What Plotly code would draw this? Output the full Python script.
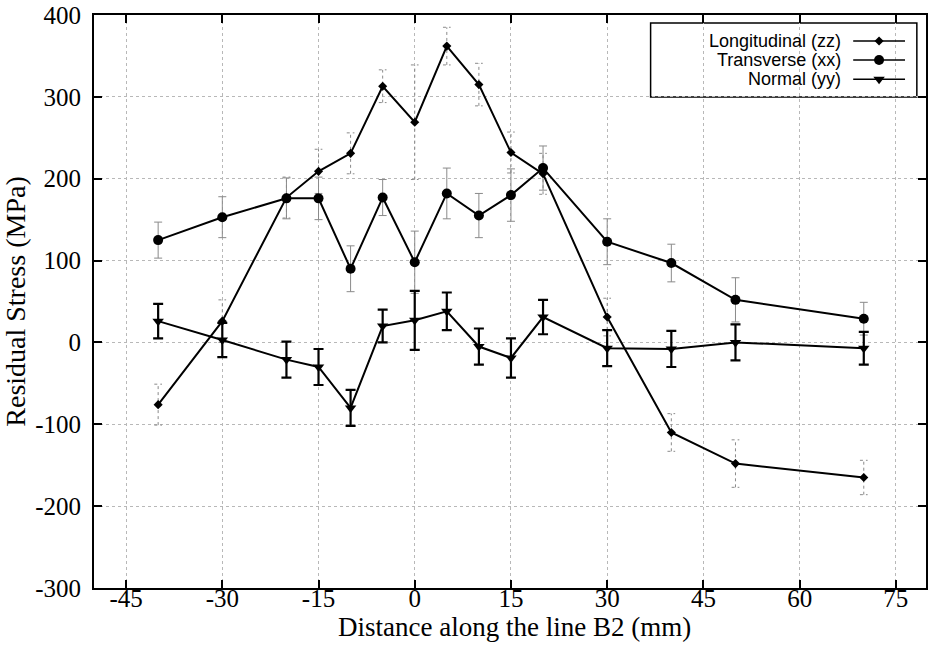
import plotly.graph_objects as go

# Measurement positions along line B2 (mm)
distance = [-40, -30, -20, -15, -10, -5, 0, 5, 10, 15, 20, 30, 40, 50, 70]

# Residual stress components (MPa) and their uncertainties
longitudinal = [-76, 26, 177, 209, 231, 313, 269, 362, 315, 232, 206, 31, -110, -148, -165]
longitudinal_err = [25, 26, 25, 27, 25, 20, 70, 23, 26, 25, 25, 23, 23, 29, 21]

transverse = [125, 153, 176, 176, 90, 177, 98, 182, 155, 180, 213, 123, 97, 52, 29]
transverse_err = [22, 25, 25, 26, 28, 22, 38, 31, 27, 32, 27, 28, 23, 27, 20]

normal = [26, 3, -21, -30, -80, 20, 27, 38, -5, -19, 31, -7, -8, 0, -7]
normal_err = [21, 21, 22, 22, 22, 20, 36, 23, 22, 24, 21, 22, 22, 22, 20]

series_names = ["Longitudinal (zz)", "Transverse (xx)", "Normal (yy)"]
x_title = "Distance along the line B2 (mm)"
y_title = "Residual Stress (MPa)"
x_ticks = [-45, -30, -15, 0, 15, 30, 45, 60, 75]
x_tick_text = ["-45", "-30", "-15", "0", "15", "30", "45", "60", "75"]
y_ticks = [-300, -200, -100, 0, 100, 200, 300, 400]
y_tick_text = ["-300", "-200", "-100", "0", "100", "200", "300", "400"]

serif = "Liberation Serif, Times New Roman, serif"
sans = "Liberation Sans, Arial, sans-serif"

fig = go.Figure()

# dotted error bars for the longitudinal component, built as segments with caps
cap = 0.6
ex, ey = [], []
for xv, yv, ev in zip(distance, longitudinal, longitudinal_err):
    ex += [xv, xv, None, xv - cap, xv + cap, None, xv - cap, xv + cap, None]
    ey += [yv - ev, yv + ev, None, yv + ev, yv + ev, None, yv - ev, yv - ev, None]
fig.add_trace(go.Scatter(x=ex, y=ey, mode="lines", showlegend=False, hoverinfo="skip",
                         line=dict(color="#8a8a8a", width=1, dash="dot")))

fig.add_trace(go.Scatter(
    x=distance, y=transverse, mode="lines+markers", name=series_names[1], showlegend=False,
    line=dict(color="black", width=2),
    marker=dict(symbol="circle", size=10, color="black"),
    error_y=dict(type="data", array=transverse_err, visible=True,
                 color="#8a8a8a", thickness=1, width=4),
))

fig.add_trace(go.Scatter(
    x=distance, y=normal, mode="lines+markers", name=series_names[2], showlegend=False,
    line=dict(color="black", width=2),
    marker=dict(symbol="triangle-down", size=10, color="black"),
    error_y=dict(type="data", array=normal_err, visible=True,
                 color="black", thickness=2.2, width=5),
))

fig.add_trace(go.Scatter(
    x=distance, y=longitudinal, mode="lines+markers", name=series_names[0], showlegend=False,
    line=dict(color="black", width=2),
    marker=dict(symbol="diamond", size=7, color="black"),
))

# legend key glyphs on an overlay axis spanning the plot area
key_rows = [0.9547, 0.9216, 0.8880]
key_symbols = ["diamond", "circle", "triangle-down"]
key_sizes = [7, 10, 10]
for row, sym, sz in zip(key_rows, key_symbols, key_sizes):
    fig.add_trace(go.Scatter(x=[0.9125, 0.9748], y=[row, row], mode="lines",
                             xaxis="x2", yaxis="y2", showlegend=False, hoverinfo="skip",
                             line=dict(color="black", width=1.5)))
    fig.add_trace(go.Scatter(x=[0.9436], y=[row], mode="markers",
                             xaxis="x2", yaxis="y2", showlegend=False, hoverinfo="skip",
                             marker=dict(symbol=sym, size=sz, color="black")))

for row, name in zip(key_rows, series_names):
    fig.add_annotation(x=0.900, y=row, xref="paper", yref="paper", text=name,
                       showarrow=False, xanchor="right", yanchor="middle",
                       font=dict(family=sans, size=18, color="black"))

fig.add_shape(type="rect", xref="paper", yref="paper", x0=0.669, x1=0.989, y0=0.857, y1=0.986,
              line=dict(color="black", width=1.5), fillcolor="white", layer="below")

# x-axis title placed just beneath the tick labels
fig.add_annotation(x=0.505, y=-0.068, xref="paper", yref="paper", text=x_title,
                   showarrow=False, xanchor="center", yanchor="middle",
                   font=dict(family=serif, size=27, color="black"))

axis_common = dict(
    showline=True, linecolor="black", linewidth=2, mirror="allticks",
    ticks="inside", ticklen=8, tickwidth=1.5, tickcolor="black",
    showgrid=True, gridcolor="#b8b8b8", gridwidth=1, griddash="dot",
    zeroline=False, tickfont=dict(family=serif, size=25, color="black"),
)

fig.update_layout(
    width=930, height=655,
    margin=dict(l=94, r=2, t=14, b=67),
    paper_bgcolor="white", plot_bgcolor="white",
    showlegend=False,
    xaxis=dict(range=[-50, 79.7], tickvals=x_ticks, ticktext=x_tick_text,
               ticklabelstandoff=-13, **axis_common),
    yaxis=dict(range=[-300, 400], tickvals=y_ticks, ticktext=y_tick_text,
               ticklabelstandoff=6, **axis_common,
               title=dict(text=y_title, standoff=2,
                          font=dict(family=serif, size=28, color="black"))),
    xaxis2=dict(range=[0, 1], overlaying="x", visible=False, fixedrange=True),
    yaxis2=dict(range=[0, 1], overlaying="y", visible=False, fixedrange=True),
)

fig.write_html("out.html")
